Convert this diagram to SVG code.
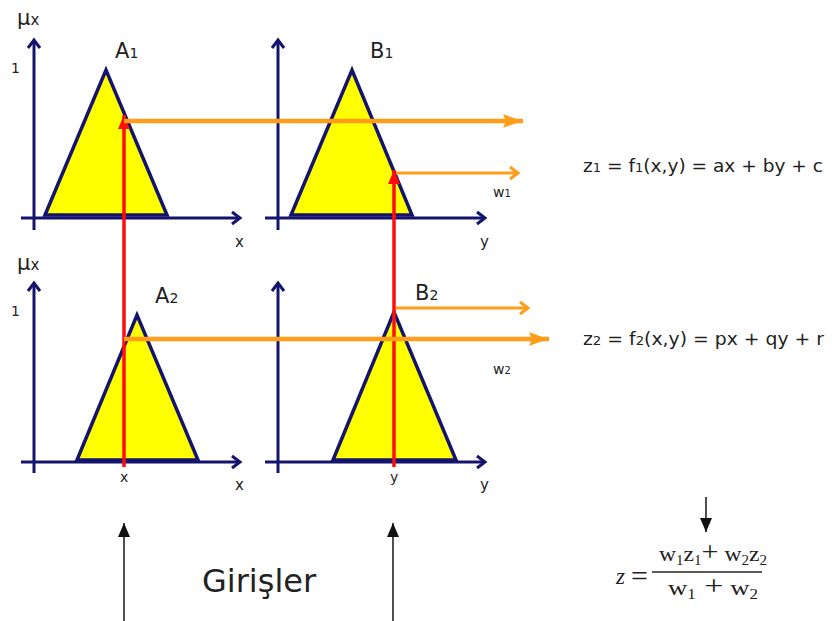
<svg xmlns="http://www.w3.org/2000/svg" width="832" height="621" viewBox="0 0 832 621">
<style>
.tri{fill:#ffff00;stroke:#14146e;stroke-width:3.5;stroke-linejoin:miter}
.ax{stroke:#14146e;stroke-width:3;fill:none}
.lbl{font-family:"DejaVu Sans",Verdana,sans-serif;fill:#222}
.red{stroke:#ff0d0d;stroke-width:3.5;fill:none}
.orT{stroke:#ff9c1a;stroke-width:4.5;fill:none}
.orN{stroke:#ff9c1a;stroke-width:3;fill:none}
.blk{stroke:#222;stroke-width:1.6;fill:none}
.ser{font-family:"Liberation Serif","Times New Roman",serif;fill:#222}
</style>
<defs>
<marker id="axh" markerUnits="userSpaceOnUse" markerWidth="16" markerHeight="16" refX="11" refY="8" orient="auto">
<path d="M3,2 L11,8 L3,14" fill="none" stroke="#14146e" stroke-width="3"/>
</marker>
<marker id="orh" markerUnits="userSpaceOnUse" markerWidth="22" markerHeight="18" refX="20" refY="9" orient="auto">
<path d="M0,2 Q10,6 20,9 Q10,12 0,16 Q4,9 0,2 Z" fill="#ff9c1a"/>
</marker>
<marker id="ornh" markerUnits="userSpaceOnUse" markerWidth="16" markerHeight="16" refX="12" refY="8" orient="auto">
<path d="M4,2 L12,8 L4,14" fill="none" stroke="#ff9c1a" stroke-width="3"/>
</marker>
<marker id="rh" markerUnits="userSpaceOnUse" markerWidth="16" markerHeight="16" refX="14" refY="8" orient="auto">
<path d="M0,2 L14,8 L0,14 Z" fill="#ff0d0d"/>
</marker>
<marker id="bh" markerUnits="userSpaceOnUse" markerWidth="16" markerHeight="16" refX="14" refY="8" orient="auto">
<path d="M0,2 L14,8 L0,14 Z" fill="#111"/>
</marker>
</defs>

<g id="panel-A1">
<polygon class="tri" points="45,215 106,70 167,215"/>
<line class="ax" x1="34" y1="230" x2="34" y2="40" marker-end="url(#axh)"/>
<line class="ax" x1="21" y1="218" x2="240" y2="218" marker-end="url(#axh)"/>
<text class="lbl" x="17" y="25" font-size="21">μ<tspan font-size="15">x</tspan></text>
<text class="lbl" x="11" y="73" font-size="14">1</text>
<text class="lbl" x="115" y="58" font-size="21">A<tspan font-size="14">1</tspan></text>
<text class="lbl" x="235" y="247" font-size="15">x</text>
</g>

<g id="panel-B1">
<polygon class="tri" points="291,215 352,70 412,215"/>
<line class="ax" x1="278" y1="230" x2="278" y2="40" marker-end="url(#axh)"/>
<line class="ax" x1="265" y1="218" x2="485" y2="218" marker-end="url(#axh)"/>
<text class="lbl" x="370" y="58" font-size="21">B<tspan font-size="14">1</tspan></text>
<text class="lbl" x="480" y="247" font-size="15">y</text>
<text class="lbl" x="493" y="197" font-size="14">w<tspan font-size="10">1</tspan></text>
</g>

<g id="panel-A2">
<polygon class="tri" points="77,460 137,315 198,460"/>
<line class="ax" x1="34" y1="473" x2="34" y2="283" marker-end="url(#axh)"/>
<line class="ax" x1="21" y1="462" x2="240" y2="462" marker-end="url(#axh)"/>
<text class="lbl" x="17" y="270" font-size="21">μ<tspan font-size="15">x</tspan></text>
<text class="lbl" x="11" y="316" font-size="14">1</text>
<text class="lbl" x="155" y="303" font-size="21">A<tspan font-size="14">2</tspan></text>
<text class="lbl" x="120" y="482" font-size="14">x</text>
<text class="lbl" x="235" y="490" font-size="15">x</text>
</g>

<g id="panel-B2">
<polygon class="tri" points="333,460 394,312 456,460"/>
<line class="ax" x1="278" y1="473" x2="278" y2="283" marker-end="url(#axh)"/>
<line class="ax" x1="265" y1="462" x2="485" y2="462" marker-end="url(#axh)"/>
<text class="lbl" x="415" y="300" font-size="21">B<tspan font-size="14">2</tspan></text>
<text class="lbl" x="390" y="482" font-size="14">y</text>
<text class="lbl" x="480" y="490" font-size="15">y</text>
<text class="lbl" x="493" y="374" font-size="14">w<tspan font-size="10">2</tspan></text>
</g>

<g id="connectors">
<line class="red" x1="124" y1="467" x2="124" y2="115" marker-end="url(#rh)"/>
<line class="red" x1="394" y1="467" x2="394" y2="170" marker-end="url(#rh)"/>
<line class="orT" x1="124" y1="121" x2="523" y2="121" marker-end="url(#orh)"/>
<line class="orT" x1="124" y1="339" x2="549" y2="339" marker-end="url(#orh)"/>
<line class="orN" x1="396" y1="173" x2="518" y2="173" marker-end="url(#ornh)"/>
<line class="orN" x1="396" y1="308" x2="528" y2="308" marker-end="url(#ornh)"/>
<line class="blk" x1="124" y1="621" x2="124" y2="523" marker-end="url(#bh)"/>
<line class="blk" x1="393" y1="621" x2="393" y2="523" marker-end="url(#bh)"/>
<line class="blk" x1="706" y1="497" x2="706" y2="532" marker-end="url(#bh)"/>
</g>

<g id="equations">
<text class="lbl" x="583" y="172" font-size="17" textLength="240" lengthAdjust="spacingAndGlyphs">z<tspan font-size="12">1</tspan> = f<tspan font-size="12">1</tspan>(x,y) = ax + by + c</text>
<text class="lbl" x="583" y="345" font-size="17" textLength="241" lengthAdjust="spacingAndGlyphs">z<tspan font-size="12">2</tspan> = f<tspan font-size="12">2</tspan>(x,y) = px + qy + r</text>
</g>

<g id="formula">
<text class="ser" x="616" y="584" font-size="23"><tspan font-style="italic">z</tspan></text>
<text class="ser" x="631" y="586" font-size="30">=</text>
<text class="ser" x="659" y="561" font-size="22" textLength="108" lengthAdjust="spacingAndGlyphs">w<tspan font-size="14" dy="4">1</tspan><tspan dy="-4">z</tspan><tspan font-size="14" dy="4">1</tspan><tspan dy="-4" font-size="28">+</tspan> w<tspan font-size="14" dy="4">2</tspan><tspan dy="-4">z</tspan><tspan font-size="14" dy="4">2</tspan></text>
<line x1="652" y1="572" x2="762" y2="572" stroke="#222" stroke-width="1.3"/>
<text class="ser" x="668" y="595" font-size="22" textLength="90" lengthAdjust="spacingAndGlyphs">w<tspan font-size="14" dy="4">1</tspan><tspan dy="-4" font-size="28"> +</tspan>   w<tspan font-size="14" dy="4">2</tspan></text>
</g>

<g id="inputs">
<text class="lbl" x="202" y="592" font-size="32" fill="#111">Girişler</text>
</g>
</svg>
